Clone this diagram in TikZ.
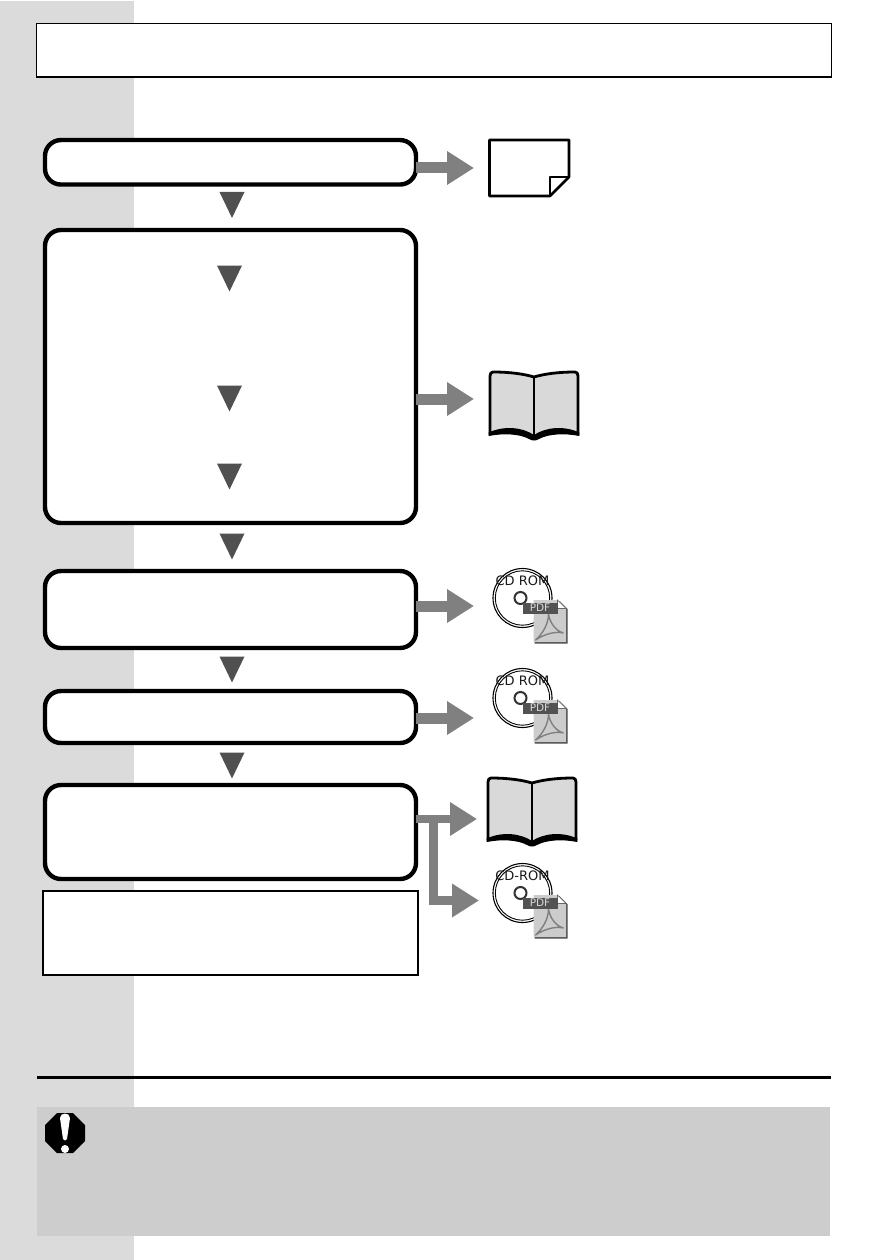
\documentclass[tikz,border=0pt]{standalone}
\usepackage{fontspec}
\setmainfont{DejaVu Sans}
\usetikzlibrary{arrows.meta,shapes.geometric}
\definecolor{strip}{HTML}{DBDBDB}
\definecolor{notebg}{HTML}{CDCDCD}
\definecolor{flowgrey}{HTML}{808080}
\definecolor{markgrey}{HTML}{505050}
\definecolor{bookgrey}{HTML}{D9D9D9}
\tikzset{
  x=1pt,y=-1pt,
  flowbox/.style={draw=black,fill=white,line width=4.4pt,rounded corners=16pt,inner sep=0pt,outer sep=0pt,minimum width=371pt},
  plainbox/.style={draw=black,fill=white,line width=1.3pt,inner sep=0pt,outer sep=0pt},
  flowarrow/.style={draw=flowgrey,line width=11pt,-{Triangle[length=27pt,width=32pt]}},
  flowline/.style={draw=flowgrey,line width=9pt},
  downmark/.style={fill=markgrey},
  pics/downtri/.style={code={\fill[downmark] (-12.5,0) -- (12.5,0) -- (0,26) -- cycle;}},
  pics/book/.style={code={
    \draw[fill=bookgrey,line width=2.8pt,line join=round]
      (-44,57) -- (-44,-1) .. controls (-44,-3.5) and (-43,-5) .. (-41,-5)
      .. controls (-24,-5) and (-10,-3) .. (0,0)
      .. controls (10,-3) and (24,-5) .. (41,-5)
      .. controls (43,-5) and (44,-3.5) .. (44,-1) -- (44,57)
      .. controls (25,52) and (10,54) .. (0,60)
      .. controls (-10,54) and (-25,52) .. (-44,57) -- cycle;
    \draw[line width=2pt] (0,0) -- (0,60);
    \fill[black] (-45.4,55.5) .. controls (-30,48.5) and (-12,50) .. (0,58)
      .. controls (12,50) and (30,48.5) .. (45.4,55.5) -- (45.4,59)
      .. controls (30,56) and (14,57) .. (5,62)
      .. controls (2,64) and (-2,64) .. (-5,62)
      .. controls (-14,57) and (-30,56) .. (-45.4,59) -- cycle;
  }},
  pics/pdfcd/.style={code={
    \draw[line width=1.1pt,fill=white] (0,0) circle[radius=29.5];
    \draw[line width=0.9pt] (0,0) circle[radius=27.2];
    \draw[line width=2pt,fill=white,draw=black!80] (-2,0) circle[radius=6];
    \node[font=\fontsize{13}{13}\selectfont,text=black!90,inner sep=0pt] (#1) at (0,-17) {#1};
    % document shadow and sheet
    \fill[black!70] (12,3) -- (37,3) -- (45,11) -- (45,45.5) -- (12,45.5) -- cycle;
    \fill[black!20] (11,2) -- (35,2) -- (43.5,10.5) -- (43.5,44) -- (11,44) -- cycle;
    \fill[white] (35,2) -- (43.5,10.5) -- (35,10.5) -- cycle;
    \draw[black!60,line width=0.7pt] (35,2) -- (43.5,10.5) -- (35,10.5) -- cycle;
    % acrobat mark
    \draw[black!50,line width=1.4pt,line cap=round]
      (13,42) .. controls (20,36) and (26,26) .. (26,16)
      .. controls (27,24) and (33,33) .. (41,35)
      .. controls (33,33) and (22,36) .. (13,42);
    % tag
    \fill[black!68] (0.5,4.5) rectangle (35,15.5);
    \node[font=\fontsize{10.5}{10.5}\selectfont,text=black!15,inner sep=0pt] (pdf#1) at (17.5,10) {PDF};
  }},
}
\begin{document}
\begin{tikzpicture}
\useasboundingbox (0,0) rectangle (894,1260);
\fill[white] (0,0) rectangle (894,1260);
\fill[strip] (0,1) rectangle (134,1260);

\node[plainbox,minimum width=795pt,minimum height=53.5pt] (header) at (434.3,50.3) {};

\node[flowbox,minimum height=44.5pt] (box1) at (230.5,162.3) {};
\node[flowbox,minimum height=293pt] (box2) at (230.5,376.5) {};
\node[flowbox,minimum height=77pt] (box3) at (230.5,609.5) {};
\node[flowbox,minimum height=52pt] (box4) at (230.5,717) {};
\node[flowbox,minimum height=94pt] (box5) at (230.5,832) {};
\node[plainbox,line width=1.6pt,minimum width=375pt,minimum height=84pt] (note) at (230.5,933) {};

% down markers
\pic at (232,192) {downtri};
\pic at (229.5,265.5) {downtri};
\pic at (229.5,385.5) {downtri};
\pic at (229.5,463.5) {downtri};
\pic at (232,533.5) {downtri};
\pic at (232,656.5) {downtri};
\pic at (232,752.5) {downtri};

% page icon
\draw[fill=white,line width=2.6pt,line join=round] (489.5,140) -- (569,140) -- (569,177) -- (550,196) -- (489.5,196) -- cycle;
\draw[line width=1.2pt,line join=round] (550,196) -- (550,177) -- (569,177);

% books and discs
\pic at (534,377) {book};
\pic at (532,783) {book};
\pic at (522.5,598) {pdfcd={CD ROM}};
\pic at (522.5,698) {pdfcd={CD ROM}};
\pic at (522.5,893) {pdfcd={CD-ROM}};

% connectors
\coordinate (t1) at (474,168);
\coordinate (t2) at (474,399);
\coordinate (t3) at (474,606);
\coordinate (t4) at (474,718);
\coordinate (t5) at (477,819);
\coordinate (t6) at (479,900.5);
\coordinate (s1) at (box1.east |- t1);
\coordinate (s2) at (box2.east |- t2);
\coordinate (s3) at (box3.east |- t3);
\coordinate (s4) at (box4.east |- t4);
\coordinate (s5) at (box5.east |- t5);
\coordinate (j1) at (433.5,819);
\coordinate (j2) at (433.5,900.5);
\draw[flowarrow] (s1) -- (t1);
\draw[flowarrow] (s2) -- (t2);
\draw[flowarrow] (s3) -- (t3);
\draw[flowarrow] (s4) -- (t4);
\draw[flowarrow,line width=8pt] (s5) -- (t5);
\draw[flowline] (j1) -- ([yshift=-4.5pt]j2);
\draw[flowarrow,line width=9pt] ([xshift=-4.5pt]j2) -- (t6);

% rule and warning
\coordinate (r1) at (37,1077.5);
\coordinate (r2) at (831,1077.5);
\draw[line width=3pt] (r1) -- (r2);
\fill[notebg] (37,1107) rectangle (830,1236);
\fill[black] (57,1113) -- (73,1113) -- (85,1125) -- (85,1141) -- (73,1153) -- (57,1153) -- (45,1141) -- (45,1125) -- cycle;
\fill[white] (60,1118) .. controls (60,1112) and (70,1112) .. (70,1118) -- (67,1139) .. controls (66.5,1141) and (63.5,1141) .. (63,1139) -- cycle;
\fill[white] (65,1149) circle[radius=4];
\end{tikzpicture}
\end{document}
